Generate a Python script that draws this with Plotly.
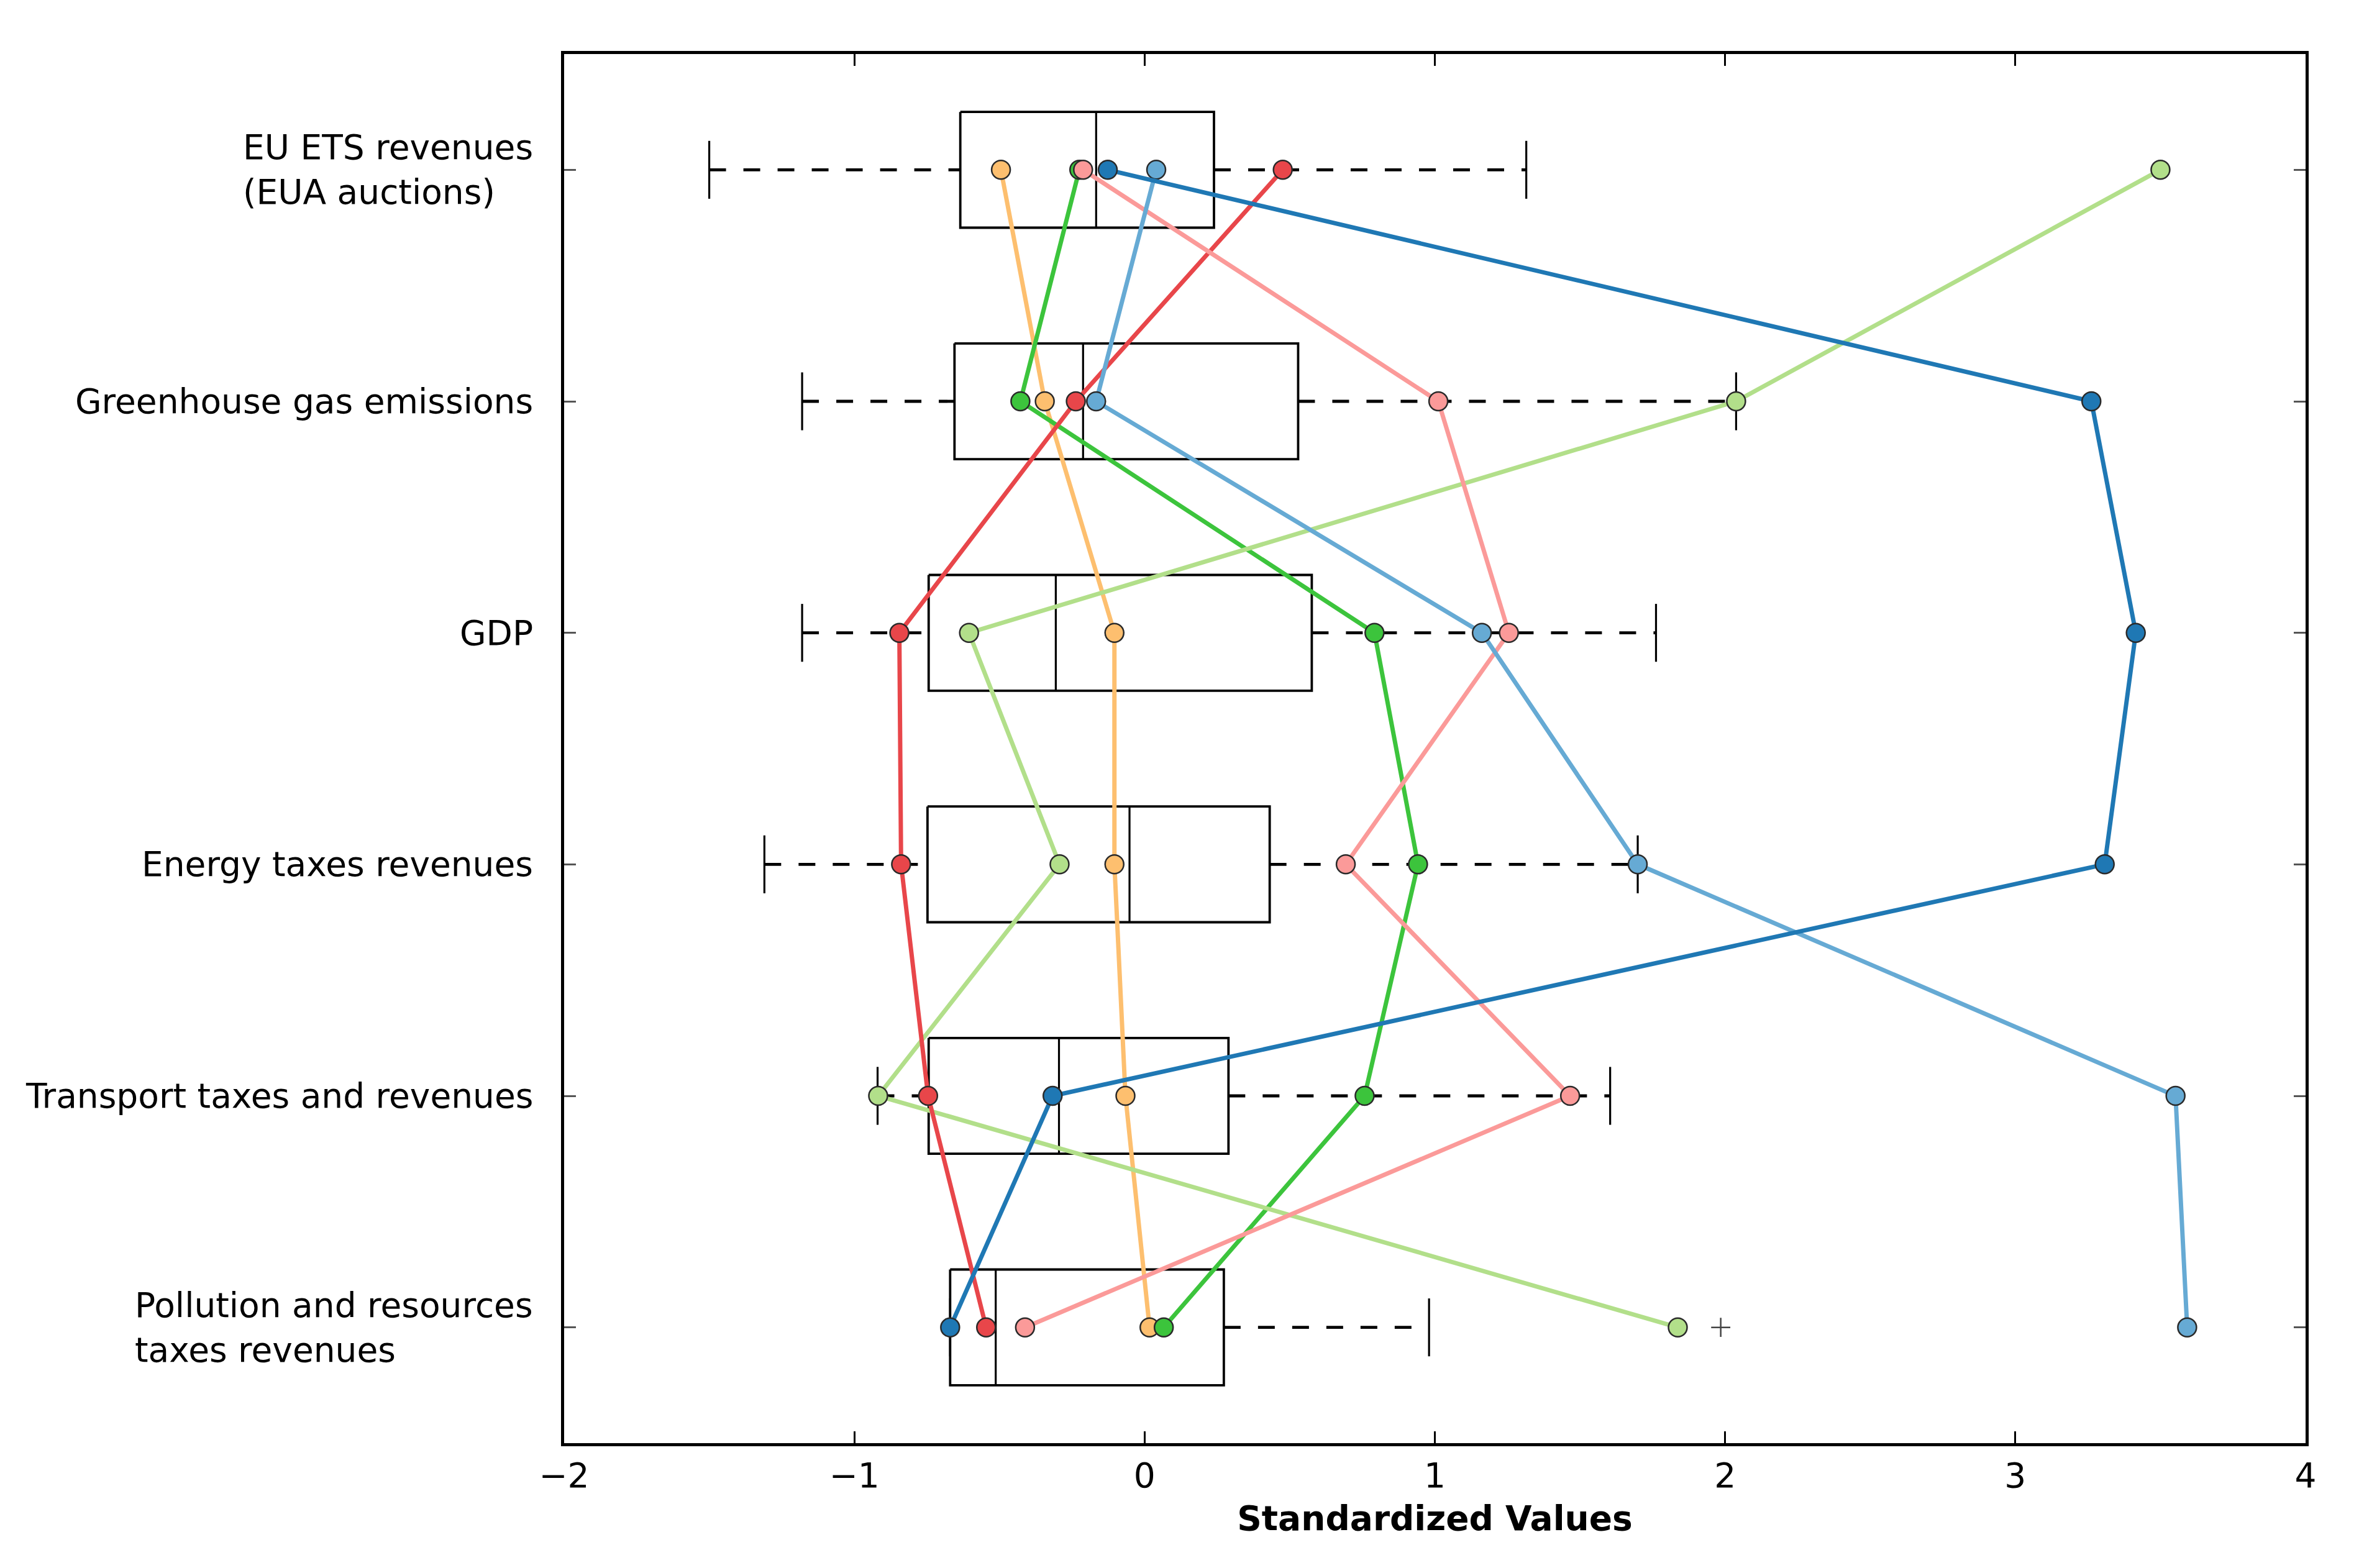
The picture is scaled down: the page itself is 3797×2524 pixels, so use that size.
import plotly.graph_objects as go

# ---------------- data ----------------
categories = [
    "EU ETS revenues<br>(EUA auctions)",
    "Greenhouse gas emissions",
    "GDP",
    "Energy taxes revenues",
    "Transport taxes and revenues",
    "Pollution and resources<br>taxes revenues",
]

# box statistics (per category, top to bottom)
whisker_low = [-1.50, -1.18, -1.18, -1.31, -0.92, -0.67]
quartile1 = [-0.635, -0.655, -0.744, -0.748, -0.744, -0.67]
medians = [-0.167, -0.212, -0.306, -0.052, -0.295, -0.513]
quartile3 = [0.239, 0.529, 0.576, 0.431, 0.289, 0.273]
whisker_high = [1.315, 2.038, 1.762, 1.699, 1.604, 0.980]

outlier_x = [1.985]
outlier_cat = [5]

# country series (standardized values per category)
series_orange = [-0.495, -0.344, -0.104, -0.104, -0.066, 0.017]
series_green = [-0.225, -0.428, 0.792, 0.942, 0.758, 0.066]
series_light_green = [3.50, 2.038, -0.605, -0.293, -0.918, 1.837]
series_red = [0.476, -0.237, -0.845, -0.839, -0.746, -0.546]
series_pink = [-0.212, 1.012, 1.255, 0.693, 1.466, -0.412]
series_light_blue = [0.040, -0.167, 1.162, 1.699, 3.552, 3.592]
series_dark_blue = [-0.127, 3.262, 3.415, 3.308, -0.317, -0.670]

series_values = [
    series_orange, series_green, series_light_green, series_red,
    series_pink, series_light_blue, series_dark_blue,
]
series_colors = ["#fdbf6f", "#3cc43c", "#b2df8a", "#e8464a",
                 "#fb9a99", "#66aad4", "#1f78b4"]

x_ticks = [-2, -1, 0, 1, 2, 3, 4]

# ---------------- figure ----------------
W, H = 3797, 2524
L, R, T, B = 900, 94, 79, 209
FONT = "DejaVu Sans"
FS = 55

fig = go.Figure()

ypos = list(range(len(categories)))
BH = 0.25   # half box height (category units)
CH = 0.125  # half cap height

box_x, box_y = [], []
med_x, med_y = [], []
wh_x, wh_y = [], []
cap_x, cap_y = [], []
for i in ypos:
    box_x += [quartile1[i], quartile3[i], quartile3[i], quartile1[i], quartile1[i], None]
    box_y += [i - BH, i - BH, i + BH, i + BH, i - BH, None]
    med_x += [medians[i], medians[i], None]
    med_y += [i - BH, i + BH, None]
    wh_x += [whisker_low[i], quartile1[i], None, quartile3[i], whisker_high[i], None]
    wh_y += [i, i, None, i, i, None]
    cap_x += [whisker_low[i], whisker_low[i], None, whisker_high[i], whisker_high[i], None]
    cap_y += [i - CH, i + CH, None, i - CH, i + CH, None]

fig.add_trace(go.Scatter(x=wh_x, y=wh_y, mode="lines", hoverinfo="skip",
                         line=dict(color="black", width=4.8, dash="27px,28px")))
fig.add_trace(go.Scatter(x=box_x, y=box_y, mode="lines", hoverinfo="skip",
                         line=dict(color="black", width=3.8)))
fig.add_trace(go.Scatter(x=med_x, y=med_y, mode="lines", hoverinfo="skip",
                         line=dict(color="black", width=3.2)))
fig.add_trace(go.Scatter(x=cap_x, y=cap_y, mode="lines", hoverinfo="skip",
                         line=dict(color="black", width=3.2)))
fig.add_trace(go.Scatter(x=outlier_x, y=outlier_cat, mode="markers", hoverinfo="skip",
                         marker=dict(symbol="cross-thin", size=22,
                                     line=dict(color="#444444", width=2.5))))

for vals, col in zip(series_values, series_colors):
    fig.add_trace(go.Scatter(
        x=vals, y=ypos, mode="lines+markers",
        line=dict(color=col, width=7),
        marker=dict(color=col, size=30, line=dict(color="#2a2a2a", width=2.5)),
    ))

for i, lab in enumerate(categories):
    fig.add_annotation(text=lab, xref="paper", x=0, yref="y", y=i,
                       xanchor="right", yanchor="middle", align="left",
                       xshift=-48, showarrow=False,
                       font=dict(family=FONT, size=FS, color="black"))

fig.update_xaxes(range=[-2, 4], tickvals=x_ticks, ticks="inside", ticklen=19,
                 tickwidth=2.5, tickcolor="black", mirror="allticks",
                 showline=True, linecolor="black", linewidth=4.5,
                 showgrid=False, zeroline=False,
                 tickfont=dict(family=FONT, size=FS, color="black"),
                 title=dict(text="Standardized Values", standoff=20,
                            font=dict(family=FONT, size=FS, color="black", weight="bold")))
fig.update_yaxes(range=[len(categories) - 0.5, -0.5], tickvals=ypos, showticklabels=False,
                 ticks="inside", ticklen=19, tickwidth=2.5, tickcolor="#555555",
                 mirror="allticks", showline=True, linecolor="black", linewidth=4.5,
                 showgrid=False, zeroline=False)

fig.update_layout(width=W, height=H, showlegend=False,
                  margin=dict(l=L, r=R, t=T, b=B, autoexpand=False),
                  plot_bgcolor="white", paper_bgcolor="white",
                  font=dict(family=FONT, size=FS, color="black"))

fig.write_html("out.html")
